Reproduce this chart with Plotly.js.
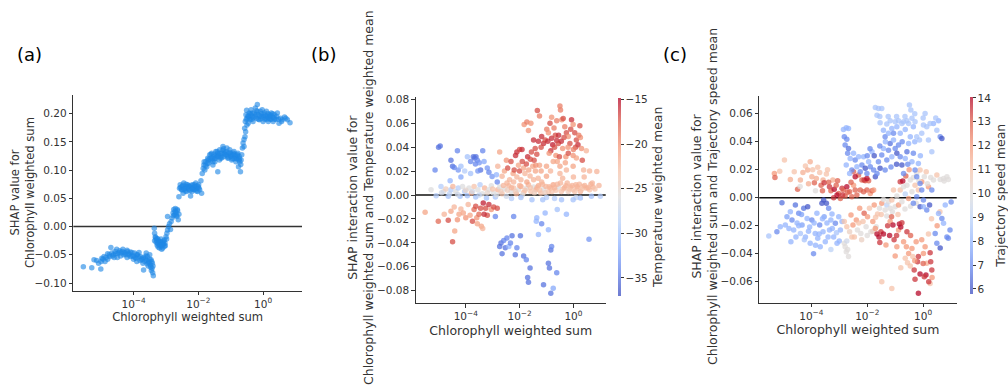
<!DOCTYPE html>
<html><head><meta charset="utf-8">
<script src="https://cdn.plot.ly/plotly-3.0.1.min.js"></script>
<style>html,body{margin:0;padding:0;background:#fff;}#chart{width:1008px;height:388px;}</style>
</head><body><div id="chart"></div>
<script>
// ---------- DATA (x = log10 of Chlorophyll weighted sum) ----------
// Panel (a): [log10 chlorophyll, SHAP value]
const aTail = [[-5.55,-0.071],[-5.29,-0.073],[-5.22,-0.059],[-5.14,-0.060],[-5.08,-0.065],[-5.01,-0.075],[-4.98,-0.056],[-4.91,-0.053],[-4.88,-0.062],[-4.80,-0.048],[-4.74,-0.053],[-4.70,-0.037],[-4.67,-0.047],[-4.62,-0.050],[-4.57,-0.044],[-4.52,-0.040],[-4.49,-0.048],[-4.43,-0.043],[-4.39,-0.047],[-4.33,-0.040],[-4.29,-0.046],[-4.24,-0.050],[-4.19,-0.044],[-4.13,-0.048],[-4.10,-0.053],[-4.05,-0.046],[-4.00,-0.052],[-3.97,-0.047],[-3.92,-0.056],[-3.88,-0.050],[-3.83,-0.046],[-3.79,-0.053],[-3.74,-0.059],[-3.71,-0.065],[-3.69,-0.077],[-3.64,-0.056],[-3.61,-0.047],[-3.57,-0.053],[-3.54,-0.062],[-3.50,-0.050],[-3.48,-0.068],[-3.46,-0.059],[-3.43,-0.074],[-3.41,-0.082],[-3.39,-0.087],[-3.42,-0.065],[-4.60,-0.055],[-4.40,-0.052],[-4.20,-0.055],[-4.00,-0.058],[-3.90,-0.050],[-3.80,-0.060],[-3.70,-0.055],[-3.60,-0.060],[-3.55,-0.070],[-3.50,-0.058],[-3.45,-0.078],[-4.80,-0.058],[-5.00,-0.062],[-4.30,-0.050],[-4.10,-0.045],[-3.95,-0.055],[-4.95,-0.058],[-4.85,-0.055],[-4.75,-0.050],[-4.65,-0.052],[-4.55,-0.048],[-4.45,-0.046],[-4.35,-0.044],[-4.25,-0.047],[-4.15,-0.050],[-4.05,-0.052],[-3.85,-0.054],[-3.75,-0.057],[-3.65,-0.062],[-3.58,-0.066],[-3.52,-0.064],[-3.47,-0.072],[-3.44,-0.062],[-3.40,-0.070],[-4.50,-0.055],[-4.20,-0.042],[-3.90,-0.062],[-3.62,-0.052]];
const aStep1 = [[-3.36,-0.003],[-3.35,-0.012],[-3.33,-0.018],[-3.30,-0.024],[-3.28,-0.021],[-3.26,-0.030],[-3.23,-0.025],[-3.20,-0.032],[-3.17,-0.027],[-3.15,-0.035],[-3.12,-0.028],[-3.10,-0.038],[-3.07,-0.031],[-3.05,-0.024],[-3.02,-0.034],[-3.00,-0.018],[-2.97,-0.012],[-2.95,-0.006],[-2.92,0.000],[-2.89,0.005],[-2.86,-0.005],[-2.84,0.009],[-2.95,0.018],[-3.30,-0.028],[-3.25,-0.022],[-3.20,-0.038],[-3.15,-0.022],[-3.10,-0.030],[-3.05,-0.035],[-3.35,-0.025],[-3.18,-0.030],[-3.32,-0.020],[-3.27,-0.033],[-3.22,-0.028],[-3.16,-0.033],[-3.13,-0.040],[-3.08,-0.026],[-3.03,-0.029],[-2.98,-0.022],[-3.24,-0.036],[-3.12,-0.032],[-2.81,0.015],[-2.78,0.024],[-2.76,0.030],[-2.73,0.021],[-2.71,0.032],[-2.69,0.025],[-2.66,0.018],[-2.64,0.028],[-2.62,0.012],[-2.60,0.022],[-2.77,0.019],[-2.72,0.027],[-2.68,0.020],[-2.65,0.030]];
const aStep2 = [[-2.60,0.053],[-2.58,0.068],[-2.56,0.074],[-2.52,0.065],[-2.50,0.071],[-2.47,0.059],[-2.45,0.077],[-2.42,0.068],[-2.39,0.071],[-2.36,0.062],[-2.33,0.074],[-2.30,0.066],[-2.27,0.071],[-2.24,0.054],[-2.20,0.068],[-2.17,0.074],[-2.14,0.065],[-2.11,0.071],[-2.08,0.077],[-2.05,0.068],[-2.02,0.062],[-1.99,0.074],[-1.96,0.065],[-1.92,0.081],[-1.90,0.059],[-2.50,0.065],[-2.40,0.063],[-2.30,0.072],[-2.20,0.062],[-2.10,0.066],[-2.00,0.070],[-2.35,0.068],[-2.15,0.069],[-2.55,0.069],[-2.48,0.073],[-2.44,0.066],[-2.38,0.075],[-2.32,0.070],[-2.26,0.064],[-2.22,0.073],[-2.18,0.066],[-2.12,0.074],[-2.06,0.063],[-2.03,0.072],[-1.98,0.068]];
const aStep3 = [[-1.88,0.094],[-1.85,0.103],[-1.83,0.109],[-1.80,0.100],[-1.77,0.115],[-1.74,0.106],[-1.71,0.121],[-1.68,0.112],[-1.65,0.127],[-1.62,0.118],[-1.59,0.130],[-1.55,0.109],[-1.52,0.124],[-1.49,0.115],[-1.46,0.133],[-1.43,0.124],[-1.40,0.097],[-1.37,0.127],[-1.34,0.136],[-1.31,0.121],[-1.28,0.130],[-1.24,0.142],[-1.21,0.124],[-1.18,0.133],[-1.15,0.127],[-1.12,0.139],[-1.09,0.121],[-1.06,0.130],[-1.03,0.136],[-1.00,0.124],[-0.97,0.118],[-0.94,0.127],[-0.90,0.133],[-0.87,0.124],[-0.84,0.115],[-0.81,0.121],[-0.78,0.130],[-0.76,0.106],[-0.74,0.124],[-0.72,0.115],[-0.70,0.097],[-0.68,0.118],[-0.66,0.127],[-1.70,0.118],[-1.60,0.122],[-1.50,0.120],[-1.40,0.130],[-1.30,0.125],[-1.20,0.130],[-1.10,0.125],[-1.00,0.128],[-0.90,0.120],[-0.80,0.125],[-0.75,0.118],[-1.35,0.118],[-1.45,0.126],[-1.55,0.115],[-1.25,0.135],[-0.95,0.120],[-1.82,0.115],[-1.78,0.108],[-1.72,0.112],[-1.66,0.120],[-1.61,0.128],[-1.57,0.120],[-1.51,0.128],[-1.47,0.121],[-1.42,0.133],[-1.38,0.124],[-1.33,0.130],[-1.27,0.122],[-1.22,0.138],[-1.17,0.128],[-1.13,0.132],[-1.07,0.122],[-1.02,0.131],[-0.98,0.126],[-0.92,0.130],[-0.88,0.128],[-0.83,0.120],[-0.79,0.127],[-0.73,0.120],[-0.69,0.110],[-0.64,0.139],[-0.62,0.148],[-0.59,0.154],[-0.59,0.142],[-0.56,0.159],[-0.54,0.168]];
const aTop = [[-0.57,0.174],[-0.55,0.186],[-0.53,0.198],[-0.51,0.206],[-0.49,0.192],[-0.46,0.183],[-0.43,0.201],[-0.40,0.189],[-0.37,0.207],[-0.34,0.195],[-0.31,0.186],[-0.27,0.201],[-0.24,0.210],[-0.21,0.192],[-0.18,0.216],[-0.15,0.198],[-0.12,0.189],[-0.09,0.204],[-0.06,0.195],[-0.03,0.207],[0.00,0.186],[0.04,0.201],[0.07,0.192],[0.10,0.204],[0.13,0.195],[0.16,0.186],[0.19,0.198],[0.22,0.190],[0.25,0.201],[0.28,0.194],[0.31,0.186],[0.35,0.198],[0.40,0.190],[0.44,0.201],[0.49,0.183],[0.54,0.192],[0.59,0.189],[0.66,0.194],[0.75,0.189],[0.83,0.184],[-0.45,0.195],[-0.35,0.190],[-0.25,0.195],[-0.15,0.190],[-0.05,0.200],[0.05,0.190],[0.15,0.200],[0.25,0.190],[0.35,0.190],[-0.50,0.180],[-0.40,0.200],[-0.20,0.205],[0.00,0.195],[0.20,0.195],[0.30,0.200],[-0.52,0.190],[-0.47,0.196],[-0.42,0.192],[-0.38,0.198],[-0.33,0.201],[-0.29,0.193],[-0.22,0.198],[-0.17,0.203],[-0.10,0.196],[-0.07,0.191],[0.02,0.198],[0.08,0.196],[0.12,0.190],[0.18,0.192],[0.23,0.197],[0.33,0.193],[0.42,0.195],[0.47,0.190],[0.57,0.186],[0.70,0.192]];

// Panel (b): [log10 chlorophyll, SHAP interaction value, Temperature weighted mean]
const bBlueUpper = [[-5.14,0.021,-34],[-5.01,0.040,-35],[-4.95,0.041,-35],[-4.31,0.037,-34],[-4.55,0.029,-35],[-4.49,0.024,-35],[-4.43,0.023,-34],[-4.28,0.021,-33],[-4.58,0.012,-31],[-4.18,0.015,-32],[-3.94,0.032,-30],[-3.82,0.028,-34],[-3.72,0.032,-35],[-3.67,0.031,-35],[-3.64,0.026,-34],[-3.62,0.032,-35],[-3.57,0.029,-34],[-3.50,0.027,-33],[-3.37,0.037,-34],[-3.45,0.021,-35],[-3.55,0.020,-33],[-3.32,0.028,-32],[-3.20,0.0225,-33],[-3.14,0.019,-34],[-3.02,0.0155,-33],[-2.86,0.017,-31],[-2.83,0.011,-34],[-3.82,0.018,-30],[-4.18,0.024,-30],[-4.04,0.020,-29]];
const bRedLeft = [[-5.51,-0.0144,-21],[-5.02,-0.022,-18],[-4.80,-0.016,-22],[-4.65,-0.021,-17],[-4.55,-0.0136,-21],[-4.43,-0.010,-22],[-4.41,-0.030,-21],[-4.49,-0.039,-17],[-4.31,-0.0206,-20],[-4.25,-0.016,-21],[-4.18,-0.0117,-22],[-4.09,-0.015,-21],[-4.00,-0.019,-20],[-3.91,-0.008,-22],[-3.84,-0.017,-21],[-3.75,-0.022,-17],[-3.69,-0.012,-18],[-3.63,-0.0094,-17],[-3.59,-0.019,-20],[-3.57,-0.024,-21],[-3.51,-0.016,-18],[-3.45,-0.011,-17],[-3.42,-0.026,-21],[-3.37,-0.028,-22],[-3.35,-0.0067,-15.5],[-3.26,-0.011,-17],[-3.20,-0.017,-17],[-3.14,-0.008,-16],[-3.05,-0.012,-20],[-2.96,-0.010,-17],[-2.83,-0.011,-17],[-3.32,-0.016,-16]];
const bNearZero = [[-5.29,0.0044,-26],[-5.10,-0.0006,-29],[-4.92,0.0072,-29],[-4.82,0.003,-26],[-4.74,0.005,-24],[-4.65,-0.001,-30],[-4.55,0.0044,-29],[-4.48,0.0072,-22],[-4.37,0.003,-26],[-4.28,0.0058,-29],[-4.21,-0.001,-30],[-4.12,0.0072,-26],[-4.04,0.003,-29],[-3.94,-0.0006,-30],[-3.88,0.0058,-26],[-3.79,0.0017,-22],[-3.69,0.0072,-23],[-3.63,-0.0017,-30],[-3.55,0.0044,-26],[-3.47,0.0086,-29],[-3.39,0.0011,-26],[-3.30,0.0058,-22],[-3.23,-0.0025,-30],[-3.14,0.0044,-26],[-3.05,0.0078,-26],[-2.98,0.0017,-26],[-2.90,-0.0017,-30],[-2.81,0.0044,-22],[-2.74,0.0067,-26],[-2.65,0.0011,-23],[-2.56,0.005,-26],[-2.49,-0.0011,-27],[-2.40,0.0078,-22],[-2.32,0.003,-26],[-2.22,0.0058,-23],[-2.12,0.0011,-22],[-2.04,0.0044,-26],[-1.95,0.0072,-21],[-1.85,0.0022,-23],[-1.75,0.0056,-26],[-1.67,0.0086,-22],[-1.58,0.003,-23],[-1.48,0.0067,-26],[-1.39,0.0044,-22],[-1.30,0.0078,-21],[-1.21,0.0017,-23],[-1.11,0.005,-26],[-1.02,0.0072,-22],[-0.93,0.003,-23],[-0.84,0.0058,-22],[-0.75,0.0086,-21],[-0.65,0.0039,-23],[-0.56,0.0067,-26],[-0.48,0.010,-22],[-0.38,0.005,-23],[-0.28,0.0078,-22],[-0.19,0.003,-24],[-0.11,0.0067,-22],[-0.01,0.0044,-23],[0.09,0.0086,-22],[0.17,0.0056,-23],[0.26,0.003,-22],[0.36,0.0072,-23],[0.48,0.0058,-22],[0.60,0.0044,-23],[0.73,0.0067,-22],[0.87,0.0197,-22],[0.67,-0.001,-30],[0.48,0.037,-22],[0.38,0.021,-22],[-4.90,0.002,-27],[-4.60,0.001,-28],[-4.30,0.0005,-27],[-4.00,0.004,-25],[-3.75,0.003,-27],[-3.50,0.000,-28],[-3.20,0.002,-25],[-3.00,0.005,-23],[-2.85,0.000,-26],[-2.70,0.003,-24],[-2.60,0.008,-22],[-2.45,0.004,-24],[-2.30,0.006,-22],[-2.15,0.003,-24],[-2.00,0.008,-22],[-1.90,0.000,-26],[-1.80,0.004,-23],[-1.60,0.006,-23],[-1.45,0.002,-24],[-1.35,0.006,-22],[-1.25,0.004,-23],[-1.15,0.009,-22],[-1.05,0.002,-24],[-0.90,0.007,-22],[-0.80,0.003,-23],[-0.70,0.006,-22],[-0.60,0.009,-22],[-0.45,0.003,-23],[-0.33,0.006,-22],[-0.23,0.010,-22],[-0.15,0.005,-23],[-0.05,0.008,-22],[0.05,0.003,-23],[0.14,0.007,-22],[0.22,0.009,-22],[0.32,0.005,-23],[0.42,0.008,-22],[0.55,0.006,-22],[0.65,0.009,-22],[0.80,0.005,-23],[-2.30,-0.003,-29],[-1.95,-0.002,-30],[-1.00,-0.002,-29],[-0.70,-0.003,-29],[0.10,-0.002,-28],[0.95,0.008,-22],[1.00,-0.001,-29]];
const bRedMid = [[-2.81,0.024,-22],[-2.74,0.036,-21],[-2.65,0.0156,-22],[-2.56,0.020,-21],[-2.49,0.029,-20],[-2.44,0.0225,-17],[-2.37,0.0128,-22],[-2.32,0.028,-17],[-2.24,0.018,-21],[-2.20,0.021,-17],[-2.15,0.033,-16],[-2.10,0.015,-22],[-2.04,0.025,-21],[-2.00,0.020,-17],[-1.95,0.0128,-22],[-1.90,0.028,-17],[-1.85,0.0225,-21],[-1.80,0.018,-22],[-1.75,0.026,-17],[-1.70,0.032,-16],[-1.66,0.021,-21],[-1.61,0.016,-22],[-1.56,0.036,-17],[-1.51,0.024,-21],[-1.46,0.029,-17],[-1.41,0.020,-21],[-1.36,0.034,-17],[-1.31,0.014,-22],[-1.26,0.025,-21],[-2.47,0.010,-22],[-2.22,0.011,-22],[-1.73,0.011,-21],[-1.48,0.0128,-22],[-1.18,0.011,-22],[-1.00,0.0156,-21],[-1.60,0.030,-17],[-1.40,0.025,-20],[-1.20,0.020,-21],[-0.85,0.020,-22],[-0.40,0.014,-22],[0.00,0.015,-22],[0.40,0.015,-22],[0.60,0.020,-22],[0.70,0.010,-22]];
const bRedUpper = [[-2.10,0.036,-16],[-2.00,0.038,-17],[-1.91,0.038,-16],[-1.83,0.059,-20],[-1.73,0.061,-19],[-1.67,0.054,-20],[-1.58,0.060,-20],[-1.48,0.046,-16],[-1.42,0.039,-17],[-1.34,0.0706,-17],[-1.26,0.066,-19],[-1.18,0.049,-16],[-1.11,0.043,-16],[-1.05,0.046,-17],[-0.99,0.055,-19],[-0.93,0.052,-20],[-0.87,0.060,-17],[-0.81,0.0475,-16],[-0.77,0.042,-15.5],[-0.72,0.056,-19],[-0.67,0.050,-17],[-0.62,0.0456,-16],[-0.56,0.043,-17],[-0.50,0.0744,-19],[-0.48,0.071,-19],[-0.43,0.063,-20],[-0.38,0.064,-17],[-0.32,0.057,-19],[-0.26,0.052,-17],[-0.19,0.049,-20],[-0.13,0.043,-17],[-0.07,0.063,-16],[-0.01,0.059,-20],[0.05,0.052,-17],[0.11,0.046,-17],[0.17,0.042,-16],[0.24,0.058,-17],[0.26,0.048,-20],[0.30,0.039,-20],[0.33,0.029,-17],[-0.84,0.037,-16],[-0.65,0.033,-20],[-0.52,0.032,-17],[-0.40,0.039,-20],[-0.28,0.032,-20],[-0.19,0.035,-17],[-0.01,0.033,-20],[0.11,0.031,-21],[-0.75,0.028,-21],[-0.50,0.024,-21],[-0.26,0.021,-22],[-0.01,0.024,-21],[-1.00,0.024,-21],[-0.50,0.018,-22],[-0.81,0.065,-20],[-0.62,0.062,-19],[-1.30,0.045,-16],[-1.20,0.040,-17],[-0.95,0.045,-16],[-0.70,0.040,-17],[-0.55,0.050,-16],[-0.45,0.045,-16],[-0.35,0.048,-17],[-0.20,0.040,-20],[-0.10,0.055,-17],[0.08,0.040,-17],[0.20,0.050,-19],[-0.90,0.035,-20],[-0.60,0.028,-21],[-0.30,0.027,-21],[0.00,0.038,-19]];
const bBlueLower = [[-2.90,-0.018,-34],[-2.74,-0.043,-35],[-2.69,-0.040,-35],[-2.65,-0.049,-35],[-2.59,-0.038,-34],[-2.53,-0.044,-35],[-2.47,-0.036,-34],[-2.40,-0.043,-31],[-2.34,-0.040,-34],[-2.28,-0.034,-35],[-2.22,-0.018,-34],[-2.16,-0.050,-35],[-2.10,-0.044,-34],[-1.97,-0.034,-35],[-1.85,-0.051,-35],[-1.75,-0.054,-34],[-1.70,-0.069,-35],[-1.67,-0.073,-35],[-1.61,-0.061,-35],[-1.36,-0.019,-31],[-1.30,-0.033,-31],[-1.18,-0.024,-34],[-1.11,-0.075,-35],[-1.05,-0.015,-31],[-0.93,-0.029,-31],[-0.89,-0.061,-35],[-0.84,-0.046,-35],[-0.81,-0.043,-34],[-0.84,-0.082,-35],[-0.75,-0.078,-32],[-0.62,-0.065,-34],[-0.93,-0.057,-35],[-1.38,-0.022,-31],[-1.54,-0.004,-30],[-1.14,-0.004,-30],[-0.60,-0.012,-30],[-0.26,-0.016,-31],[-0.44,-0.004,-30],[-0.01,-0.004,-30],[0.26,-0.0025,-30],[0.58,-0.037,-33]];

// Panel (c): [log10 chlorophyll, SHAP interaction value, Trajectory speed mean]
const cBlueLeft = [[-5.52,-0.0274,8.5],[-5.23,-0.0243,7],[-5.05,-0.0036,6.5],[-5.11,-0.0207,8],[-4.93,-0.0195,8],[-4.87,-0.0136,7.5],[-4.75,-0.010,8],[-4.73,-0.0314,8],[-4.69,-0.016,7],[-4.63,-0.023,8],[-4.57,-0.0052,6.5],[-4.51,-0.018,8],[-4.45,-0.011,7],[-4.39,-0.0255,8.5],[-4.33,-0.0195,7.5],[-4.27,-0.0076,6.5],[-4.21,-0.028,8],[-4.15,-0.0148,8],[-4.13,-0.0064,6],[-4.06,-0.021,8],[-4.04,-0.0326,8],[-3.98,-0.016,7],[-3.92,-0.040,7],[-3.86,-0.0255,8],[-3.80,-0.011,8],[-3.77,-0.029,8],[-3.70,-0.0195,7],[-3.68,-0.035,8],[-3.62,-0.004,6],[-3.58,-0.0243,8],[-3.54,-0.0136,7.5],[-3.50,-0.0314,8],[-3.44,-0.018,8],[-3.38,-0.0076,7],[-3.35,-0.023,8],[-3.30,-0.037,9],[-3.26,-0.0117,8],[-3.20,-0.028,8],[-3.14,-0.0183,7],[-3.08,-0.0326,8],[-3.02,-0.0136,8],[-2.96,-0.023,8],[-2.90,-0.017,8],[-3.46,-0.004,6],[-3.56,-0.0017,6],[-4.80,-0.022,8],[-4.55,-0.028,8],[-4.35,-0.012,7.5],[-4.10,-0.024,8],[-3.90,-0.018,8],[-3.72,-0.026,8],[-3.60,-0.015,8],[-3.40,-0.028,8],[-3.25,-0.022,8],[-3.10,-0.025,8.5],[-3.00,-0.031,8],[-3.30,-0.016,8],[-3.85,-0.034,8],[-4.25,-0.030,8.5],[-4.45,-0.020,8]];
const cRedLeft = [[-5.32,0.0174,12],[-5.30,0.0145,13],[-5.13,0.019,11],[-4.96,0.027,11],[-4.75,0.013,11.5],[-4.61,0.0186,11],[-4.49,0.006,13],[-4.39,0.0126,11.5],[-4.30,0.018,11.5],[-4.21,0.0226,11],[-4.13,0.0198,11.5],[-4.04,0.0257,11.5],[-3.98,0.015,11.5],[-3.89,0.0107,13],[-3.82,0.0138,11.5],[-3.77,0.0217,11],[-3.70,0.018,11],[-3.65,0.009,13],[-3.58,0.0126,11.5],[-3.54,0.0107,13.5],[-3.46,0.0169,11],[-3.42,0.020,11],[-3.35,0.0079,13.5],[-3.30,0.005,13],[-3.23,0.0126,11.5],[-3.18,0.006,14],[-3.11,0.009,13],[-3.06,0.0121,13],[-3.02,0.0031,13],[-2.96,-0.0005,13],[-2.90,0.0067,13.5],[-2.85,0.0055,13],[-2.79,0.0012,13],[-2.73,0.0079,14],[-2.63,0.0043,13],[-2.55,0.0007,13],[-2.49,0.009,12],[-2.43,0.0055,13],[-2.37,0.0019,13],[-2.31,0.0162,13],[-2.25,0.0055,13],[-2.19,0.0126,13],[-2.13,0.0043,13],[-2.07,0.0121,13],[-2.01,0.0055,13],[-1.95,0.0121,13],[-1.89,0.0031,12],[-1.83,0.005,13],[-1.77,0.0055,12],[-2.49,0.0186,13],[-2.43,0.015,14],[-2.11,0.0126,13.5],[-2.01,0.0138,14],[-4.10,0.010,11.5],[-3.95,0.020,11],[-3.60,0.005,13],[-3.38,0.011,13],[-3.20,0.000,13.5],[-3.08,0.002,14],[-2.88,0.002,13.5],[-2.70,0.004,13],[-2.58,0.011,13],[-4.40,0.008,10],[-3.85,0.005,10]];
const cGreyMid = [[-2.82,-0.0326,10],[-2.79,-0.035,10],[-2.75,-0.0386,10],[-2.70,-0.037,10],[-2.67,-0.042,10],[-2.73,-0.031,9.5],[-2.82,-0.017,11],[-2.73,-0.0207,11],[-2.63,-0.0243,10.5],[-2.58,-0.0124,12],[-2.51,-0.0195,12],[-2.46,-0.028,11],[-2.39,-0.016,12],[-2.35,-0.023,10],[-2.27,-0.0076,12],[-2.23,-0.0255,10],[-2.15,-0.017,11],[-2.11,-0.011,13],[-2.04,-0.0207,10],[-1.99,-0.0136,12],[-1.92,-0.0076,11],[-1.87,-0.0243,10],[-1.80,-0.017,12],[-1.75,-0.0052,12],[-1.68,-0.0207,10],[-1.63,-0.0117,11],[-1.56,-0.0076,10],[-1.48,-0.004,12],[-1.42,-0.0012,10],[-1.36,-0.0088,10],[-1.30,-0.0052,9],[-1.24,-0.0029,10],[-1.18,-0.0076,10],[-1.12,-0.0017,11],[-1.06,0.0055,11],[-1.00,-0.0064,10],[-0.94,0.0012,10],[-0.88,-0.0052,12],[-0.82,0.0055,11],[-0.76,-0.0029,10],[-0.70,0.0079,10],[-0.64,0.0026,9],[-0.58,0.009,10],[-0.52,-0.0005,12],[-0.46,0.0126,10],[-0.40,0.0043,10],[-0.35,0.0145,10],[-0.29,0.009,11],[-0.23,0.0174,10],[-0.17,0.0055,11],[-0.11,0.0198,11],[-0.05,0.0114,12],[0.04,0.015,10],[0.11,0.0186,11],[0.19,0.0079,12],[0.27,0.0145,10],[0.37,0.0126,10],[0.49,0.0162,11],[0.61,0.0131,10],[0.73,0.0138,10],[0.85,0.015,10],[-0.82,0.0114,13.5],[-0.73,0.012,14],[-0.62,0.0155,13],[-0.50,0.020,12],[0.30,-0.015,11],[0.50,-0.020,12],[0.60,-0.010,11],[0.75,0.012,10],[0.90,0.013,10],[-2.55,-0.028,11],[-2.30,-0.018,11],[-2.20,-0.030,10.5],[-2.00,-0.027,10],[-1.80,-0.024,10.5],[-1.70,-0.014,11],[-1.50,-0.012,11],[-1.30,-0.013,10],[-1.10,-0.010,10],[-0.90,-0.012,11],[-0.65,-0.008,10],[-0.45,-0.006,10],[-0.25,-0.004,10],[-0.15,0.012,10],[0.15,0.010,10]];
const cRedLower = [[-1.65,-0.026,14],[-1.58,-0.028,14],[-1.51,-0.0243,13.5],[-1.42,-0.026,14],[-1.33,-0.0338,12],[-1.27,-0.020,13.5],[-1.18,-0.017,12],[-1.13,-0.0136,13],[-1.08,-0.0195,14],[-1.04,-0.030,13.5],[-1.00,-0.0417,12],[-0.94,-0.035,12],[-0.88,-0.023,12],[-0.85,-0.0188,14],[-0.80,-0.021,14],[-0.76,-0.0179,13.5],[-0.70,-0.0314,12],[-0.64,-0.0433,11],[-0.58,-0.0243,13.5],[-0.56,-0.0464,11],[-0.52,-0.0398,12],[-0.46,-0.0488,11],[-0.40,-0.0362,12],[-0.37,-0.042,11],[-0.32,-0.0517,13.5],[-0.25,-0.0314,12],[-0.20,-0.0457,13.5],[-0.17,-0.042,13.5],[-0.11,-0.0545,14],[-0.05,-0.030,12],[0.01,-0.0398,12],[0.07,-0.035,12],[0.13,-0.0469,11.5],[0.19,-0.026,11],[0.25,-0.0393,13.5],[0.27,-0.0457,13.5],[0.31,-0.0517,13.5],[0.32,-0.057,12],[0.25,-0.0612,11],[-0.17,-0.0683,14],[-0.29,-0.0583,13.5],[0.10,-0.0552,14],[0.04,-0.0564,13.5],[-1.48,-0.060,11],[-1.12,-0.0648,11],[-1.71,-0.0219,12],[-1.55,-0.032,13.5],[-1.20,-0.027,14],[-0.95,-0.027,13.5],[-0.60,-0.035,12],[-0.30,-0.045,12],[0.00,-0.047,13],[0.20,-0.060,13.5],[-0.80,-0.050,11],[-0.45,-0.027,13]];
const cBlueMid = [[-2.85,0.0488,8],[-2.75,0.050,8],[-2.67,0.0495,8],[-2.82,0.0436,7],[-2.73,0.0417,7],[-2.79,0.0376,7],[-2.67,0.0352,6.5],[-2.70,0.0317,7],[-2.61,0.028,8],[-2.75,0.0233,8],[-2.55,0.0198,7],[-2.63,0.0174,8],[-2.49,0.0317,8],[-2.43,0.027,7],[-2.37,0.0221,8],[-2.31,0.0293,8],[-2.25,0.0186,7],[-2.19,0.0233,7],[-2.13,0.0293,8],[-2.07,0.021,6],[-2.01,0.0174,7],[-1.95,0.0257,8],[-1.89,0.0221,7],[-1.83,0.0329,8],[-1.77,0.0198,7],[-1.71,0.015,6],[-1.65,0.0174,7],[-1.60,0.0257,7],[-1.54,0.021,6],[-1.48,0.0305,7],[-1.42,0.0352,8],[-1.36,0.0198,7],[-1.30,0.0269,7],[-1.24,0.034,7],[-1.18,0.0388,6.5],[-1.12,0.0293,8],[-1.06,0.0412,8],[-1.00,0.0352,7],[-0.94,0.0317,6],[-0.88,0.0376,7],[-0.82,0.0293,7],[-0.76,0.0233,6],[-0.70,0.0174,7],[-0.64,0.0281,8],[-0.58,0.0329,6.5],[-0.52,0.0388,8],[-0.46,0.0436,8],[-0.40,0.0257,8],[-0.35,0.0317,7],[-0.29,0.0198,7],[-0.23,0.015,7],[-0.17,0.0245,8],[-0.11,0.0102,7],[-0.05,0.0055,7],[-2.00,0.030,7],[-1.90,0.035,7],[-1.75,0.030,6],[-1.55,0.037,7],[-1.35,0.040,8],[-1.15,0.022,7],[-0.95,0.024,6],[-0.75,0.040,7],[-0.55,0.024,7],[-0.30,0.040,8],[-0.10,0.030,8]];
const cBlueTop = [[-1.71,0.0645,8.5],[-1.65,0.059,8.5],[-1.60,0.0638,8.5],[-1.54,0.0536,8.5],[-1.48,0.0638,8.5],[-1.42,0.0483,8],[-1.36,0.0436,7],[-1.30,0.0526,8.5],[-1.24,0.046,8],[-1.18,0.055,8.5],[-1.12,0.0495,8],[-1.06,0.046,7],[-1.00,0.0543,8.5],[-0.94,0.0507,8],[-0.88,0.055,8.5],[-0.82,0.046,8],[-0.76,0.0531,8.5],[-0.70,0.0543,8.5],[-0.64,0.0488,8],[-0.58,0.055,8.5],[-0.52,0.0531,8.5],[-0.49,0.0662,8.5],[-0.44,0.0626,8.5],[-0.40,0.0567,8.5],[-0.35,0.0507,8],[-0.29,0.0543,8.5],[-0.23,0.0436,8.5],[-0.13,0.0412,8.5],[-0.05,0.046,8.5],[0.01,0.0519,8.5],[0.07,0.0602,8.5],[0.13,0.0507,8.5],[0.19,0.0412,8.5],[0.37,0.0531,8],[0.55,0.055,8],[0.61,0.0436,7],[0.67,0.0424,6],[0.49,0.0483,8.5],[0.31,0.0329,8.5],[-1.55,0.058,8.5],[-1.25,0.058,8.5],[-0.95,0.058,8.5],[-0.65,0.058,8.5],[-0.30,0.060,8.5],[0.00,0.057,8.5],[0.25,0.053,8.5],[0.45,0.057,8.5]];
const cBlueRight = [[-0.35,-0.004,7],[-0.23,0.0007,7],[-0.11,-0.0064,6],[0.01,-0.0017,7],[0.13,-0.0088,7],[0.23,-0.0052,6],[0.31,0.0055,7],[0.43,-0.0255,7],[0.49,-0.0326,7],[0.55,-0.0112,8],[0.61,-0.036,6],[0.67,-0.0148,7],[0.73,-0.0183,8],[0.79,-0.0052,8],[0.90,-0.029,7],[0.96,-0.023,7],[0.01,-0.0064,8],[1.00,-0.003,7],[0.85,-0.028,7]];

const xTickVals = [1e-4, 1e-2, 1];
const xTickText = ['10<sup>\u22124</sup>', '10<sup>\u22122</sup>', '10<sup>0</sup>'];
const tempTicks = [-35, -30, -25, -20, -15];
const speedTicks = [6, 7, 8, 9, 10, 11, 12, 13, 14];
const yTitleA = 'SHAP value for<br>Chlorophyll weighted sum';
const yTitleB = 'SHAP interaction value for<br>Chlorophyll weighted sum and Temperature weighted mean';
const yTitleC = 'SHAP interaction value for<br>Chlorophyll weighted sum and Trajectory speed mean';

// ---------- BUILD ----------
const W = 1008, H = 388;
const FONT = 'DejaVu Sans, Verdana, sans-serif';
const pts = (arrs) => [].concat(...arrs);
const A = pts([aTail, aStep1, aStep2, aStep3, aTop]);
const B = pts([bNearZero, bBlueUpper, bRedLeft, bRedMid, bBlueLower, bRedUpper]);
const C = pts([cBlueLeft, cGreyMid, cRedLeft, cBlueMid, cBlueTop, cBlueRight, cRedLower]);
const toX = p => Math.pow(10, p[0]);

const al = 0.74;
const coolwarm = [[0,'rgba(59,76,192,'+al+')'],[0.125,'rgba(98,130,234,'+al+')'],[0.25,'rgba(141,176,254,'+al+')'],[0.375,'rgba(184,208,249,'+al+')'],[0.5,'rgba(221,220,220,'+al+')'],[0.625,'rgba(245,196,172,'+al+')'],[0.75,'rgba(244,154,123,'+al+')'],[0.875,'rgba(222,96,77,'+al+')'],[1,'rgba(180,4,38,'+al+')']];

const dX = (l, r) => [l / W, r / W];
const dY = (t, b) => [1 - b / H, 1 - t / H];

const traces = [
  {type:'scatter', mode:'markers', x:A.map(toX), y:A.map(p=>p[1]), xaxis:'x', yaxis:'y',
   marker:{color:'#1E88E5', size:5.5, opacity:0.62, line:{width:0}}, hoverinfo:'skip'},
  {type:'scatter', mode:'markers', x:B.map(toX), y:B.map(p=>p[1]), xaxis:'x2', yaxis:'y2',
   marker:{color:B.map(p=>p[2]), colorscale:coolwarm, cmin:-37, cmax:-14.8, size:5.5, line:{width:0},
     colorbar:{x:618.3/W, xanchor:'left', xpad:0, y:1-97.7/H, yanchor:'top', ypad:0,
       thickness:3, thicknessmode:'pixels', len:198, lenmode:'pixels', outlinewidth:0,
       ticks:'outside', ticklen:3, tickwidth:1, tickcolor:'#333', tickmode:'array', tickvals:tempTicks,
       tickfont:{family:FONT, size:10.5, color:'#333'},
       title:{text:'Temperature weighted mean', side:'right', font:{family:FONT, size:12.5, color:'#333'}}}},
   hoverinfo:'skip'},
  {type:'scatter', mode:'markers', x:C.map(toX), y:C.map(p=>p[1]), xaxis:'x3', yaxis:'y3',
   marker:{color:C.map(p=>p[2]), colorscale:coolwarm, cmin:5.8, cmax:14.05, size:5.5, line:{width:0},
     colorbar:{x:970/W, xanchor:'left', xpad:0, y:1-96.7/H, yanchor:'top', ypad:0,
       thickness:3, thicknessmode:'pixels', len:197, lenmode:'pixels', outlinewidth:0,
       ticks:'outside', ticklen:3, tickwidth:1, tickcolor:'#333', tickmode:'array', tickvals:speedTicks,
       tickfont:{family:FONT, size:10.5, color:'#333'},
       title:{text:'Trajectory speed mean', side:'right', font:{family:FONT, size:12.5, color:'#333'}}}},
   hoverinfo:'skip'}
];

function xAx(dom, anchor, fs, tfs) {
  return {domain:dom, anchor:anchor, type:'log', range:[-5.86, 1.2], showgrid:false, zeroline:false,
    showline:true, linecolor:'#333', linewidth:1, ticks:'outside', ticklen:3.5, tickwidth:1, tickcolor:'#333',
    tickmode:'array', tickvals:xTickVals, ticktext:xTickText,
    tickfont:{family:FONT, size:tfs, color:'#333'},
    title:{text:'Chlorophyll weighted sum', font:{family:FONT, size:fs, color:'#333'}, standoff:4}};
}
function yAx(dom, anchor, range, dtick, tfs) {
  return {domain:dom, anchor:anchor, range:range, showgrid:false, zeroline:false,
    showline:true, linecolor:'#333', linewidth:1, ticks:'outside', ticklen:3.5, tickwidth:1, tickcolor:'#333',
    tickmode:'linear', tick0:0, dtick:dtick, tickformat:'.2f',
    tickfont:{family:FONT, size:tfs, color:'#333'}};
}
function yTitle(text, cx, cy, fs) {
  return {text:text, xref:'paper', yref:'paper', x:cx/W, y:1-cy/H, xanchor:'center', yanchor:'middle',
    textangle:-90, showarrow:false, align:'center', font:{family:FONT, size:fs, color:'#333'}};
}
function panelLabel(text, cx) {
  return {text:text, xref:'paper', yref:'paper', x:cx/W, y:1-55/H, showarrow:false, xanchor:'center', yanchor:'middle',
    font:{family:FONT, size:18, color:'#000'}};
}

const layout = {
  width:W, height:H, margin:{l:0, r:0, t:0, b:0}, showlegend:false,
  paper_bgcolor:'#fff', plot_bgcolor:'rgba(0,0,0,0)', font:{family:FONT, color:'#333'},
  xaxis: xAx(dX(73.3, 302), 'y', 11.6, 10.5),
  yaxis: yAx(dY(95, 290.7), 'x', [-0.1136, 0.233], 0.05, 10.5),
  xaxis2: xAx(dX(415.7, 605.7), 'y2', 12.5, 10.5),
  yaxis2: yAx(dY(96.7, 303.3), 'x2', [-0.0905, 0.0822], 0.02, 10.5),
  xaxis3: xAx(dX(759.3, 956.7), 'y3', 12.5, 10.5),
  yaxis3: yAx(dY(95.7, 302.7), 'x3', [-0.075, 0.0729], 0.02, 10.5),
  shapes: [
    {type:'line', xref:'x domain', yref:'y', x0:0, x1:1, y0:0, y1:0, line:{color:'#333', width:1.5}, layer:'below'},
    {type:'line', xref:'x2 domain', yref:'y2', x0:0, x1:1, y0:0, y1:0, line:{color:'#111', width:1.5}, layer:'below'},
    {type:'line', xref:'x3 domain', yref:'y3', x0:0, x1:1, y0:0, y1:0, line:{color:'#111', width:1.5}, layer:'below'}
  ],
  annotations: [
    panelLabel('(a)', 29), panelLabel('(b)', 323), panelLabel('(c)', 675),
    yTitle(yTitleA, 22, 193, 11.6),
    yTitle(yTitleB, 360, 198, 12.5),
    yTitle(yTitleC, 704, 197, 12.5)
  ]
};

Plotly.newPlot('chart', traces, layout, {staticPlot:true, displayModeBar:false});
</script></body></html>
